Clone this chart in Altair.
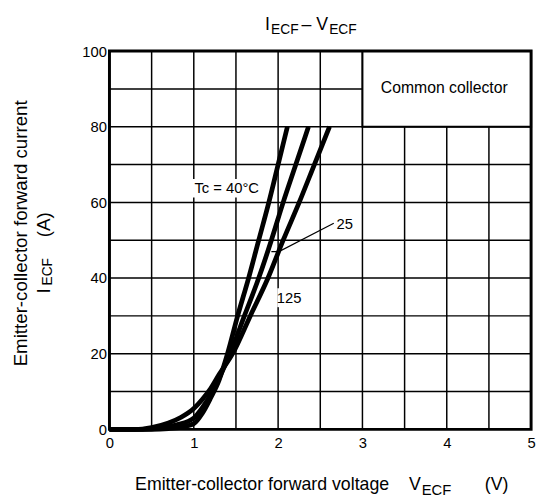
import altair as alt
import pandas as pd

# ---- data ----
V_M40 = [0, 0.5, 0.7, 0.85, 1.0, 1.1, 1.2, 1.3, 1.4, 1.52, 1.65, 1.77, 1.89, 2.0, 2.11]
I_M40 = [0, 0, 0.2, 0.6, 1.5, 4.2, 8.3, 13, 20, 30, 40, 50, 60, 70, 80]
V_25 = [0, 0.4, 0.6, 0.8, 1.0, 1.1, 1.2, 1.3, 1.43, 1.6, 1.77, 1.92, 2.06, 2.21, 2.36]
I_25 = [0, 0, 0.3, 1.2, 3.0, 5.7, 9.2, 13.5, 20, 30, 40, 50, 60, 70, 80]
V_125 = [0, 0.3, 0.5, 0.7, 0.85, 1.0, 1.1, 1.2, 1.3, 1.46, 1.67, 1.88, 2.06, 2.25, 2.43, 2.61]
I_125 = [0, 0, 0.5, 1.7, 3.2, 5.5, 7.9, 10.8, 14.5, 20, 30, 40, 50, 60, 70, 80]

X_TICKS = [0, 1, 2, 3, 4, 5]
Y_TICKS = [0, 20, 40, 60, 80, 100]
X_GRID = [0.5, 1, 1.5, 2, 2.5, 3, 3.5, 4, 4.5]
Y_GRID = [10, 20, 30, 40, 50, 60, 70, 80, 90]

BOX_X = [3, 5]
BOX_Y = [80, 100]
BOX_TEXT = "Common collector"
BOX_TEXT_POS = [3.97, 90.3]

TC_TEXT = "Tc = 40°C"
TC_POS = [1.39, 63.7]
TC_BG = [0.96, 1.82, 61.3, 66.2]
L25_TEXT = "25"
L25_POS = [2.79, 54.3]
L125_TEXT = "125"
L125_POS = [2.13, 34.8]
L125_BG = [1.99, 2.28, 32.3, 37.3]
LEADER_V = [2.66, 2.01, 1.92]
LEADER_I = [54.5, 47.0, 47.0]

FONT = "Liberation Sans"
W, H = 428, 384

# ---- tables ----
rows = []
for name, vs, cs in [("-40", V_M40, I_M40), ("25", V_25, I_25), ("125", V_125, I_125)]:
    for k, (v, c) in enumerate(zip(vs, cs)):
        rows.append({"series": name, "V": v, "I": c, "order": k})
curves = pd.DataFrame(rows)

x_scale = alt.Scale(domain=[0, 5], nice=False, zero=False)
y_scale = alt.Scale(domain=[0, 100], nice=False, zero=False)
x_axis = alt.Axis(values=X_TICKS, grid=False, domain=False, ticks=False, title=None,
                  labelFont=FONT, labelFontSize=15, labelColor="black", labelPadding=6,
                  labelFlush=False)
y_axis = alt.Axis(values=Y_TICKS, grid=False, domain=False, ticks=False, title=None,
                  labelFont=FONT, labelFontSize=15, labelColor="black", labelPadding=3)


def X(field):
    return alt.X(field, type="quantitative", scale=x_scale, axis=x_axis)


def Y(field):
    return alt.Y(field, type="quantitative", scale=y_scale, axis=y_axis)


one = pd.DataFrame({"k": [0]})

vgrid = alt.Chart(pd.DataFrame({"v": X_GRID})).mark_rule(color="black", strokeWidth=1.5).encode(x=X("v"))
hgrid = alt.Chart(pd.DataFrame({"i": Y_GRID})).mark_rule(color="black", strokeWidth=1.5).encode(y=Y("i"))

box = alt.Chart(pd.DataFrame({"x1": [BOX_X[0]], "x2": [BOX_X[1]], "y1": [BOX_Y[0]], "y2": [BOX_Y[1]]})).mark_rect(
    fill="white", stroke="black", strokeWidth=2).encode(x=X("x1"), x2="x2", y=Y("y1"), y2="y2")

bgs = alt.Chart(pd.DataFrame({"x1": [TC_BG[0], L125_BG[0]], "x2": [TC_BG[1], L125_BG[1]],
                              "y1": [TC_BG[2], L125_BG[2]], "y2": [TC_BG[3], L125_BG[3]]})).mark_rect(
    fill="white").encode(x=X("x1"), x2="x2", y=Y("y1"), y2="y2")

lines = alt.Chart(curves).mark_line(color="black", strokeWidth=4.8, interpolate="monotone",
                                    strokeCap="butt").encode(
    x=X("V"), y=Y("I"), detail="series:N", order="order:Q")

leader = alt.Chart(pd.DataFrame({"V": LEADER_V, "I": LEADER_I, "o": [0, 1, 2]})).mark_line(
    color="black", strokeWidth=1.2).encode(x=X("V"), y=Y("I"), order="o:Q")

ann = alt.Chart(pd.DataFrame({
    "t": [TC_TEXT, L25_TEXT, L125_TEXT],
    "x": [TC_POS[0], L25_POS[0], L125_POS[0]],
    "y": [TC_POS[1], L25_POS[1], L125_POS[1]],
})).mark_text(font=FONT, fontSize=15, color="black", baseline="middle", align="center").encode(
    x=X("x"), y=Y("y"), text="t:N")

boxtext = alt.Chart(pd.DataFrame({"t": [BOX_TEXT], "x": [BOX_TEXT_POS[0]], "y": [BOX_TEXT_POS[1]]})).mark_text(
    font=FONT, fontSize=16, color="black", baseline="middle", align="center").encode(
    x=X("x"), y=Y("y"), text="t:N")

border = alt.Chart(one).mark_rect(fillOpacity=0, stroke="black", strokeWidth=3).encode(
    x=alt.value(0), x2=alt.value(W), y=alt.value(0), y2=alt.value(H))


def txt(s, x, y, size, align="left", baseline="alphabetic", angle=0):
    kw = dict(font=FONT, fontSize=size, color="black", align=align, baseline=baseline, text=s)
    if angle:
        kw["angle"] = angle
    return alt.Chart(one).mark_text(**kw).encode(x=alt.value(x), y=alt.value(y))


texts = [
    # title  I_ECF – V_ECF
    txt("I", 158, -21, 18),
    txt("ECF", 164, -17, 14),
    txt("–", 195, -21, 18),
    txt("V", 210, -21, 18),
    txt("ECF", 223, -17, 14),
    # x-axis title
    txt("Emitter-collector forward voltage", 26, 446, 18),
    txt("V", 304, 446, 18),
    txt("ECF", 317, 451, 15),
    txt("(V)", 381, 446, 18),
    # y-axis title
    txt("Emitter-collector forward current", -90, 185, 19, align="center", baseline="middle", angle=270),
    txt("I", -66, 246, 19, baseline="middle", angle=270),
    txt("ECF", -62, 238, 14, baseline="middle", angle=270),
    txt("(A)", -66, 189, 19, baseline="middle", angle=270),
]

chart = alt.layer(vgrid, hgrid, box, bgs, lines, leader, ann, boxtext, border, *texts).properties(
    width=W, height=H,
    autosize=alt.AutoSizeParams(type="none"),
    padding={"left": 103, "top": 40, "right": 6, "bottom": 70},
).configure_view(stroke=None)

chart.save("out.html", embed_options={"renderer": "svg", "actions": False})
